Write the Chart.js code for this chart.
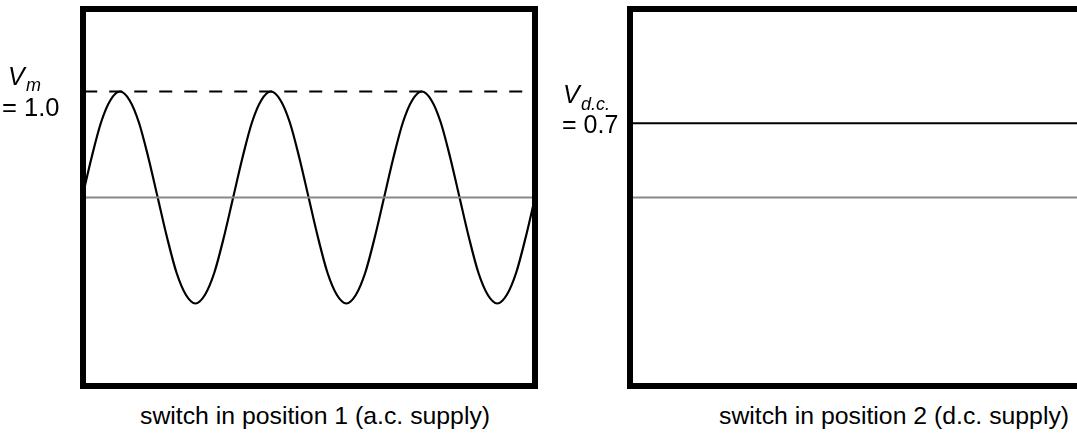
<!DOCTYPE html>
<html>
<head>
<meta charset="utf-8">
<script src="https://cdn.jsdelivr.net/npm/chart.js@4/dist/chart.umd.min.js"></script>
<style>
  html, body {
    margin: 0;
    padding: 0;
    background: #fff;
    overflow: hidden;
    width: 1077px;
    height: 433px;
  }
  .wrap {
    position: absolute;
    top: 0;
  }
  .txt {
    position: absolute;
    font-family: "Liberation Sans", Arial, sans-serif;
    color: #000;
    line-height: 1;
    white-space: nowrap;
  }
  .it { font-style: italic; }
</style>
</head>
<body>
<div class="wrap" style="left:0px;"><canvas id="acChart" width="540" height="392"></canvas></div>
<div class="wrap" style="left:540px;"><canvas id="dcChart" width="560" height="392"></canvas></div>

<div class="txt it" style="left:8px; top:64px; font-size:25px;">V</div>
<div class="txt it" style="left:26px; top:76px; font-size:18px;">m</div>
<div class="txt" style="left:2px; top:95px; font-size:25.5px;">= 1.0</div>

<div class="txt it" style="left:563px; top:82px; font-size:25px;">V</div>
<div class="txt it" style="left:581px; top:95px; font-size:18px;">d.c.</div>
<div class="txt" style="left:562px; top:112px; font-size:25px;">= 0.7</div>

<div class="txt" style="left:140px; top:404px; font-size:24.8px;">switch in position 1 (a.c. supply)</div>
<div class="txt" style="left:719px; top:404px; font-size:24.8px;">switch in position 2 (d.c. supply)</div>

<script>
  // time in ms (50 Hz supply, one cycle = 20 ms)
  const times = [
    0, 1.25, 2.5, 3.75, 5, 6.25, 7.5, 8.75,
    10, 11.25, 12.5, 13.75, 15, 16.25, 17.5, 18.75,
    20, 21.25, 22.5, 23.75, 25, 26.25, 27.5, 28.75,
    30, 31.25, 32.5, 33.75, 35, 36.25, 37.5, 38.75,
    40, 41.25, 42.5, 43.75, 45, 46.25, 47.5, 48.75,
    50, 51.25, 52.5, 53.75, 55, 56.25, 57.5, 58.75,
    60,
  ];
  // a.c. output voltage
  const acVolts = [
    0, 0.38, 0.71, 0.92, 1, 0.92, 0.71, 0.38,
    0, -0.38, -0.71, -0.92, -1, -0.92, -0.71, -0.38,
    0, 0.38, 0.71, 0.92, 1, 0.92, 0.71, 0.38,
    0, -0.38, -0.71, -0.92, -1, -0.92, -0.71, -0.38,
    0, 0.38, 0.71, 0.92, 1, 0.92, 0.71, 0.38,
    0, -0.38, -0.71, -0.92, -1, -0.92, -0.71, -0.38,
    0,
  ];
  const peakVolts = 1.0;
  const dcVolts = 0.7;
  const timeRange = [0.5, 59.6];
  const voltRange = [-1.75, 1.75];

  const boxPlugin = {
    id: "box",
    afterDraw(chart) {
      const a = chart.chartArea;
      const ctx = chart.ctx;
      ctx.save();
      ctx.strokeStyle = "#000";
      ctx.lineWidth = 6;
      ctx.strokeRect(a.left - 3, a.top - 3, a.right - a.left + 6, a.bottom - a.top + 6);
      ctx.restore();
    },
  };

  function flat(v) {
    return [
      { x: 0, y: v },
      { x: 60, y: v },
    ];
  }

  function makeOptions(pad) {
    return {
      responsive: false,
      animation: false,
      layout: { padding: pad },
      plugins: { legend: { display: false }, tooltip: { enabled: false } },
      elements: { point: { radius: 0 } },
      scales: {
        x: { type: "linear", min: timeRange[0], max: timeRange[1], display: false },
        y: { type: "linear", min: voltRange[0], max: voltRange[1], display: false },
      },
    };
  }

  new Chart(document.getElementById("acChart").getContext("2d"), {
    type: "line",
    data: {
      datasets: [
        { data: flat(0), borderColor: "#888", borderWidth: 2 },
        { data: flat(peakVolts), borderColor: "#000", borderWidth: 2, borderDash: [13, 12], borderDashOffset: -2 },
        {
          data: times.map((t, i) => ({ x: t, y: acVolts[i] })),
          borderColor: "#000",
          borderWidth: 2.2,
          cubicInterpolationMode: "monotone",
        },
      ],
    },
    options: makeOptions({ left: 86, right: 8, top: 12, bottom: 9 }),
    plugins: [boxPlugin],
  });

  new Chart(document.getElementById("dcChart").getContext("2d"), {
    type: "line",
    data: {
      datasets: [
        { data: flat(0), borderColor: "#888", borderWidth: 2 },
        { data: flat(dcVolts), borderColor: "#000", borderWidth: 2 },
      ],
    },
    options: makeOptions({ left: 93, right: 21, top: 12, bottom: 9 }),
    plugins: [boxPlugin],
  });
</script>
</body>
</html>
